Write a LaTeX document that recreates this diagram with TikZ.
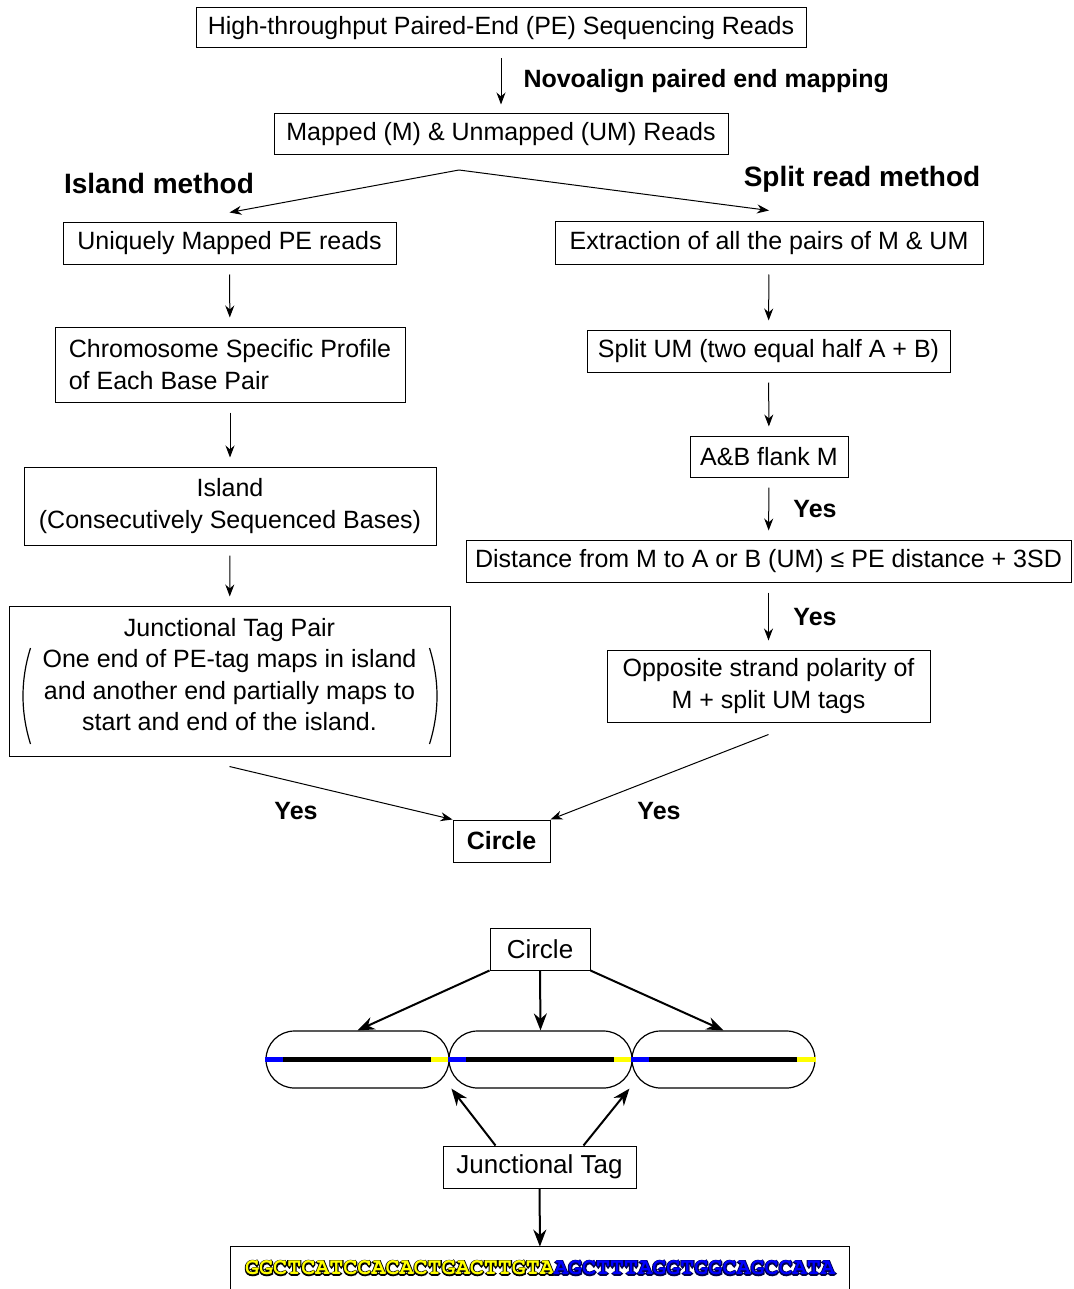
\documentclass[tikz,border=0pt]{standalone}
\usepackage{fontspec}
\setmainfont{Liberation Sans}
\newfontfamily\seqfont{TeX Gyre Cursor}
\usetikzlibrary{arrows.meta, positioning, calc}

\definecolor{seqblue}{RGB}{0,0,255}
\definecolor{seqyellow}{RGB}{255,255,0}

% filled letters over a stroked rim in another colour
\newcommand\rimmed[3]{\rlap{\special{pdf:literal direct #2 RG 1 Tr 1.1 w}#3\special{pdf:literal direct 0 Tr 0.4 w}}{\color{#1}#3}}

\begin{document}
\begin{tikzpicture}[x=0.5pt, y=-0.5pt,
        box/.style={draw, line width=0.5pt, inner sep=0pt, align=center, font=\fontsize{12.5}{15.75}\selectfont},
        boldbox/.style={box, font=\fontsize{12.5}{15.75}\selectfont\bfseries},
        bigbox/.style={box, font=\fontsize{13}{15.75}\selectfont},
        yes/.style={font=\fontsize{12.5}{15}\selectfont\bfseries, inner sep=0pt},
        method/.style={font=\fontsize{14}{16}\selectfont\bfseries, inner sep=0pt},
        capsule/.style={draw, line width=0.6pt, rounded corners=14.25pt, minimum width=91.5pt, minimum height=28.5pt, inner sep=0pt},
        paren/.style={line width=0.6pt},
        flow/.style={-{Stealth[length=6pt, width=4.5pt]}, line width=0.5pt},
        vflow/.style={flow, shorten <=5pt, shorten >=4.5pt},
        boldflow/.style={-{Stealth[length=8.5pt, width=6.5pt]}, line width=1pt}
    ]
        \useasboundingbox (0,0) rectangle (1073,1289);

        % Top
        \node[box, minimum width=305pt, minimum height=20pt] (reads) at (501,28) {High-throughput Paired-End (PE) Sequencing Reads};
        \node[box, minimum width=227pt, minimum height=20.5pt] (mapped) at (501,134.5) {Mapped (M) \& Unmapped (UM) Reads};
        \draw[vflow] (reads) -- node[right=11pt, yes, anchor=west] {Novoalign paired end mapping} (mapped);

        \coordinate (fork) at (459,170);
        \node[method] (island) at (159,183) {Island method};
        \node[method] (split) at (862,179) {Split read method};

        % Island method
        \node[box, minimum width=166.5pt, minimum height=20.5pt] (uniq) at (229.5,243.5) {Uniquely Mapped PE reads};
        \node[box, align=left, minimum width=175pt, minimum height=37.5pt] (chrom) at (230,364.5) {Chromosome Specific Profile\\of Each Base Pair};
        \node[box, minimum width=206pt, minimum height=39pt] (isl) at (230,506) {Island\\(Consecutively Sequenced Bases)};
        \node[box, minimum width=220.5pt, minimum height=75pt] (jtp) at (229.5,681) {\raisebox{2pt}[\height][\depth]{\begin{tabular}{@{}c@{}}Junctional Tag Pair\\One end of PE-tag maps in island\\and another end partially maps to\\start and end of the island.\end{tabular}}};
        \draw[paren] ($(jtp.west)+(22,-33)$) .. controls +(-10,32) and +(-10,-32) .. ($(jtp.west)+(22,63)$);
        \draw[paren] ($(jtp.east)+(-21,-33)$) .. controls +(10,32) and +(10,-32) .. ($(jtp.east)+(-21,63)$);

        \draw[flow] (fork) -- ([yshift=5pt]uniq.north);
        \draw[vflow] (uniq) -- (chrom);
        \draw[vflow] (chrom) -- (isl);
        \draw[vflow] (isl) -- (jtp);

        % Split read method
        \node[box, minimum width=214pt, minimum height=21pt] (extr) at (769,243) {Extraction of all the pairs of M \& UM};
        \node[box, minimum width=181.5pt, minimum height=21pt] (halves) at (768.5,351) {Split UM (two equal half A + B)};
        \node[box, minimum width=79pt, minimum height=20.5pt] (flank) at (769,456.5) {A\&B flank M};
        \node[box, minimum width=302.5pt, minimum height=21pt] (dist) at (768.5,561) {Distance from M to A or B (UM) ≤ PE distance + 3SD};
        \node[box, minimum width=161.5pt, minimum height=36pt] (polar) at (768.5,686) {Opposite strand polarity of\\M + split UM tags};

        \draw[flow] (fork) -- ([yshift=5.5pt]extr.north);
        \draw[vflow] (extr) -- (halves);
        \draw[vflow] (halves) -- (flank);
        \draw[vflow] (flank) -- (dist);
        \draw[vflow] (dist) -- (polar);
        \node[yes] at (815,509) {Yes};
        \node[yes] at (815,617) {Yes};

        % Circle
        \node[boldbox, minimum width=48.5pt, minimum height=21pt] (circ) at (501.5,841) {Circle};
        \draw[flow] ([yshift=-5pt]jtp.south) -- (circ.north west);
        \draw[flow] ([yshift=-6pt]polar.south) -- (circ.north east);
        \node[yes] at (296,811) {Yes};
        \node[yes] at (659,811) {Yes};

        % Capsules
        \node[bigbox, minimum width=50pt, minimum height=21pt] (circ2) at (540,949) {Circle};
        \node[capsule] (cap1) at (357.5,1059.5) {};
        \node[capsule] (cap2) at (540.5,1059.5) {};
        \node[capsule] (cap3) at (723.5,1059.5) {};
        \foreach \c in {cap1,cap2,cap3} {
            \draw[line width=2.5pt] ([xshift=9pt]\c.west) -- ([xshift=-9.5pt]\c.east);
            \draw[line width=2.5pt, seqblue] (\c.west) -- ([xshift=9pt]\c.west);
            \draw[line width=2.5pt, seqyellow] ([xshift=-9.5pt]\c.east) -- (\c.east);
        }
        \draw[boldflow] (circ2.south west) -- (cap1.north);
        \draw[boldflow] (circ2.south) -- (cap2.north);
        \draw[boldflow] (circ2.south east) -- (cap3.north);

        \node[bigbox, minimum width=96.5pt, minimum height=21pt] (jtag) at (539.5,1167) {Junctional Tag};
        \draw[boldflow] ([xshift=-22pt]jtag.north) -- ([xshift=1.5pt]cap2.south west);
        \draw[boldflow] ([xshift=22pt]jtag.north) -- ([xshift=-1pt]cap3.south west);

        % Sequence
        \node[inner sep=0pt, minimum width=309pt, minimum height=21pt, font=\seqfont\bfseries\fontsize{11.7}{14}\selectfont] (seq) at (540,1268)
            {\rimmed{seqyellow}{0 0 0}{GGCTCATCCACACTGACTTGTA}\rimmed{seqblue}{0 0 0.3}{AGCTTTAGGTGGCAGCCATA}};
        \draw[line width=0.5pt] (seq.south west) -- (seq.north west) -- (seq.north east) -- (seq.south east);
        \draw[boldflow] (jtag) -- (seq);

    \end{tikzpicture}
\end{document}
